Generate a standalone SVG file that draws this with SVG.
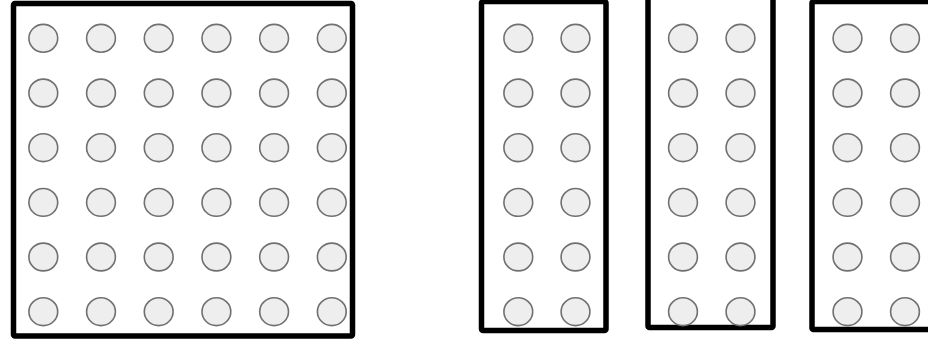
<svg xmlns="http://www.w3.org/2000/svg" width="928" height="340" viewBox="0 0 928 340">
<style>
.box{fill:#ffffff;stroke:#000000;stroke-width:5.5;stroke-linejoin:round}
.c{fill:#eeeeee;stroke:#707070;stroke-width:1.6}
</style>
<defs>
<ellipse id="dot" class="c" cx="0" cy="0" rx="14.4" ry="13.9"/>
<g id="col6">
<use href="#dot" y="38.3"/><use href="#dot" y="93"/><use href="#dot" y="147.7"/><use href="#dot" y="202.4"/><use href="#dot" y="257"/><use href="#dot" y="311.7"/>
</g>
</defs>
<rect width="928" height="340" fill="#ffffff"/>
<g id="square">
<rect class="box" x="13.5" y="3.5" width="339" height="332.5" rx="1.5"/>
<use href="#col6" x="43.3"/><use href="#col6" x="101"/><use href="#col6" x="158.7"/><use href="#col6" x="216.4"/><use href="#col6" x="274.1"/><use href="#col6" x="331.8"/>
</g>
<g id="strip1">
<rect class="box" x="481.5" y="1.5" width="124.5" height="329" rx="1.5"/>
<use href="#col6" x="518.3"/><use href="#col6" x="575.5"/>
</g>
<g id="strip2">
<rect class="box" x="648" y="-10" width="125" height="337.5" rx="1.5"/>
<use href="#col6" x="683"/><use href="#col6" x="740.5"/>
</g>
<g id="strip3">
<rect class="box" x="812" y="1.5" width="130" height="328" rx="1.5"/>
<use href="#col6" x="847.5"/><use href="#col6" x="905"/>
</g>
<g id="connectors"></g>
</svg>
